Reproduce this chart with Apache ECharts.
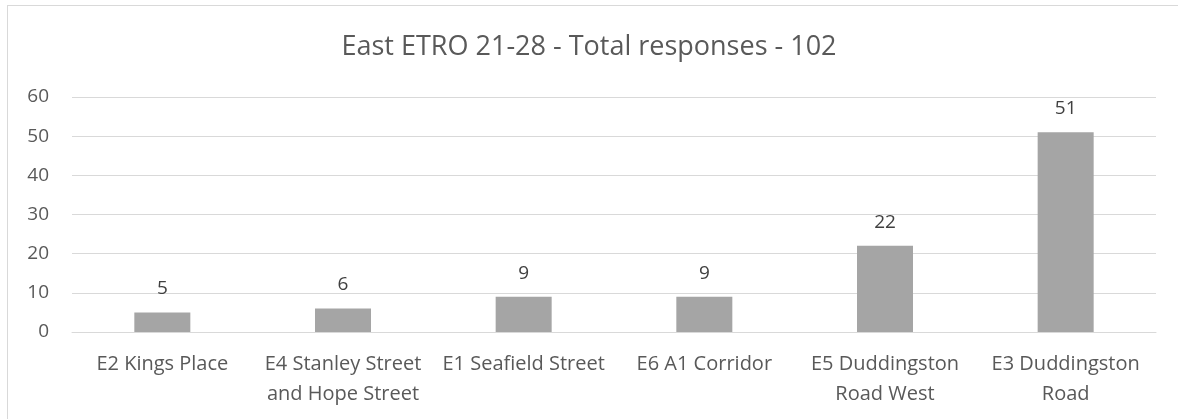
<!DOCTYPE html>
<html>
<head>
<meta charset="utf-8">
<script src="https://cdn.jsdelivr.net/npm/echarts@6/dist/echarts.min.js"></script>
<style>
  html, body { margin: 0; padding: 0; background: #fff; overflow: hidden; }
  #frame {
    position: absolute; left: 7px; top: 5px; width: 1200px; height: 440px;
    border: 1px solid #d9d9d9; box-sizing: border-box;
  }
  #chart { position: absolute; left: 0; top: 0; width: 1178px; height: 419px; }
</style>
</head>
<body>
<div id="frame"></div>
<div id="chart"></div>
<script>
// 数据
const categories = [
  'E2 Kings Place',
  'E4 Stanley Street\nand Hope Street',
  'E1 Seafield Street',
  'E6 A1 Corridor',
  'E5 Duddingston\nRoad West',
  'E3 Duddingston\nRoad'
];
const responses = [5, 6, 9, 9, 22, 51];
const titleText = 'East ETRO 21-28 - Total responses - 102';

const font = 'Open Sans, Liberation Sans, sans-serif';
let myChart = echarts.init(document.getElementById('chart'));
myChart.setOption({
  animation: false,
  title: {
    text: titleText,
    left: 'center',
    top: 29,
    textStyle: { fontFamily: font, fontSize: 27, fontWeight: 'normal', color: '#595959' }
  },
  grid: { left: 72, right: 22, top: 97, bottom: 87 },
  xAxis: {
    type: 'category',
    data: categories,
    axisLine: { lineStyle: { color: '#d9d9d9' } },
    axisTick: { show: false },
    axisLabel: {
      fontFamily: font, fontSize: 20, color: '#595959',
      margin: 17, lineHeight: 30, interval: 0
    }
  },
  yAxis: {
    type: 'value',
    min: 0, max: 60, interval: 10,
    axisLine: { show: false },
    axisTick: { show: false },
    splitLine: { lineStyle: { color: '#d9d9d9' } },
    axisLabel: { fontFamily: font, fontSize: 19, color: '#595959', margin: 23 }
  },
  series: [{
    type: 'bar',
    data: responses,
    barWidth: '31%',
    itemStyle: { color: '#a5a5a5' },
    label: {
      show: true, position: 'top', distance: 14,
      fontFamily: font, fontSize: 19, color: '#404040'
    }
  }]
});
</script>
</body>
</html>
